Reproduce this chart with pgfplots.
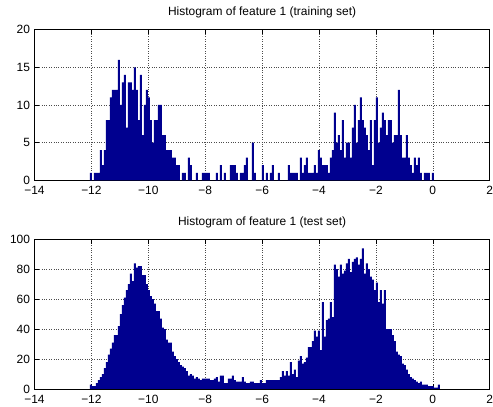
\documentclass[border=0pt]{standalone}
\usepackage{fontspec}
\setmainfont{Liberation Sans}
\usepackage{pgfplots}
\usepackage{pgfplotstable}
\pgfplotsset{compat=1.18}
\definecolor{histblue}{rgb}{0,0,0.5625}

% bin counts, bins of width 0.0703 starting at -12.05
\pgfplotstableread[row sep=\\]{c\\
1\\0\\1\\1\\1\\4\\2\\4\\8\\8\\
11\\12\\12\\12\\16\\10\\13\\14\\7\\13\\
13\\12\\15\\12\\8\\14\\6\\10\\12\\11\\
8\\5\\8\\8\\10\\10\\6\\6\\4\\4\\
4\\3\\3\\2\\2\\0\\1\\1\\0\\3\\
2\\0\\0\\1\\0\\0\\1\\1\\1\\1\\
0\\0\\0\\1\\0\\2\\0\\1\\0\\0\\
2\\2\\2\\1\\0\\1\\1\\2\\3\\0\\
0\\5\\1\\0\\0\\0\\2\\0\\1\\0\\
1\\2\\0\\0\\1\\0\\0\\0\\0\\2\\
1\\1\\1\\1\\0\\3\\1\\2\\3\\1\\
1\\1\\2\\1\\4\\3\\2\\2\\2\\1\\
3\\4\\9\\5\\6\\4\\8\\3\\5\\5\\
3\\7\\10\\5\\8\\11\\8\\7\\6\\4\\
8\\2\\8\\11\\5\\7\\9\\8\\6\\8\\
8\\5\\6\\6\\12\\6\\3\\3\\6\\3\\
2\\1\\3\\2\\3\\1\\0\\1\\1\\1\\
0\\1\\
}\train

\pgfplotstableread[row sep=\\]{c\\
3\\2\\2\\4\\6\\8\\10\\14\\18\\23\\
27\\31\\36\\36\\42\\50\\56\\61\\66\\70\\
77\\72\\84\\81\\82\\82\\76\\76\\70\\66\\
62\\60\\57\\52\\52\\47\\41\\40\\33\\31\\
31\\25\\22\\20\\18\\16\\15\\14\\12\\9\\
10\\9\\7\\8\\7\\6\\7\\7\\7\\7\\
6\\6\\7\\8\\5\\9\\9\\4\\4\\7\\
7\\9\\6\\5\\5\\5\\8\\5\\4\\4\\
5\\5\\4\\4\\4\\6\\4\\4\\6\\6\\
6\\6\\6\\6\\6\\8\\12\\9\\12\\9\\
18\\10\\13\\8\\19\\22\\17\\18\\21\\28\\
28\\32\\39\\35\\39\\26\\58\\35\\46\\47\\
58\\48\\83\\80\\75\\83\\77\\79\\84\\87\\
78\\85\\87\\88\\83\\87\\94\\77\\84\\80\\
75\\73\\66\\71\\58\\66\\57\\66\\40\\40\\
40\\36\\32\\25\\23\\22\\17\\16\\13\\10\\
8\\7\\6\\5\\4\\5\\3\\3\\3\\2\\
2\\2\\1\\1\\3\\
}\test

\pgfplotsset{histax/.style={
    scale only axis,
    width=455.2bp,
    xmin=-14, xmax=2, ymin=0,
    xtick={-14,-12,...,2},
    xticklabels={−14,−12,−10,−8,−6,−4,−2,0,2},
    grid=major,
    grid style={black!70, dotted, line width=0.5pt},
    tick align=inside,
    major tick length=4.5bp,
    axis line style={line width=0.5pt},
    every tick/.style={black, line width=0.5pt},
    /pgf/number format/assume math mode=true,
    tick label style={font=\fontsize{12}{14}\selectfont},
    xticklabel style={anchor=base, yshift=-14.5bp},
    yticklabel style={xshift=-1bp},
    title style={font=\fontsize{12}{14}\selectfont, anchor=base, at={(0.5,1)}, yshift=8bp},
}}

\begin{document}
\begin{tikzpicture}
\useasboundingbox (0,0) rectangle (493bp,407bp);
\begin{axis}[histax,
    at={(34.5bp,226.7bp)}, anchor=south west,
    height=150.6bp,
    ymax=20, ytick={0,5,...,20},
    title={Histogram of feature 1 (training set)}]
\addplot[ybar, bar width=0.0703, bar shift=0pt, fill=histblue, draw=none]
    table[x expr=\coordindex*0.0703-12.0149, y=c] {\train};
\end{axis}
\begin{axis}[histax,
    at={(34.5bp,18bp)}, anchor=south west,
    height=149.7bp,
    ymax=100, ytick={0,20,...,100},
    title={Histogram of feature 1 (test set)}]
\addplot[ybar, bar width=0.0703, bar shift=0pt, fill=histblue, draw=none]
    table[x expr=\coordindex*0.0703-12.0149, y=c] {\test};
\end{axis}
\end{tikzpicture}
\end{document}
